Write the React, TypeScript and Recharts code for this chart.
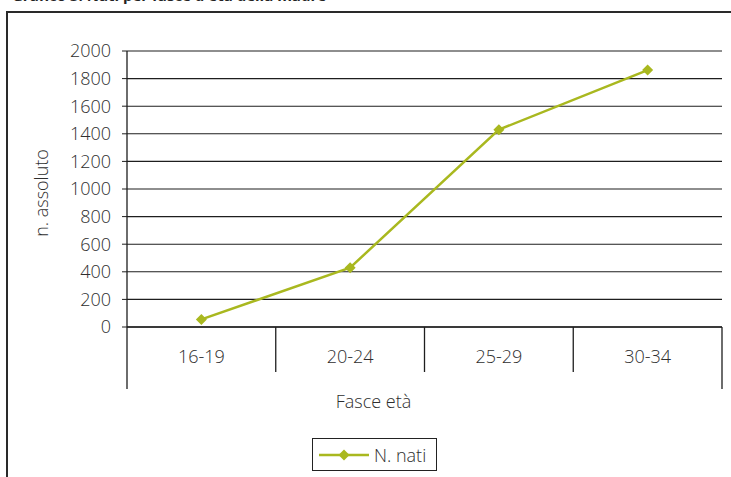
import React from 'react';
import { LineChart, Line, XAxis, YAxis, CartesianGrid, Legend } from 'recharts';

const categories = ['16-19', '20-24', '25-29', '30-34'];
const nati = [55, 430, 1430, 1862];
const yTicks = [0, 200, 400, 600, 800, 1000, 1200, 1400, 1600, 1800, 2000];
const seriesName = 'N. nati';
const title = "Grafico 3: Nati per fasce d'età della madre";

const data = categories.map((c, i) => ({ cat: c, nati: nati[i] }));

const W = 731;
const H = 477;
const LINE_COLOR = '#a9b81f';
const AXIS_COLOR = '#1e1e1e';
const TEXT_COLOR = '#2e2e2e';
const FONT = '"Open Sans", sans-serif';
const FW = 300;

const Diamond = (props: any) => {
  const { cx, cy } = props;
  if (cx == null || cy == null) return null;
  const r = 5.5;
  return (
    <path
      d={`M${cx},${cy - r} L${cx + r},${cy} L${cx},${cy + r} L${cx - r},${cy} Z`}
      fill={LINE_COLOR}
      stroke="none"
    />
  );
};

const XTick = (props: any) => {
  const { x, y, payload, index, visibleTicksCount, width } = props;
  const half =
    payload && typeof payload.offset === 'number' && payload.offset > 0
      ? payload.offset
      : width / visibleTicksCount / 2;
  const last = index === visibleTicksCount - 1;
  return (
    <g>
      <line
        x1={x - half}
        x2={x - half}
        y1={y}
        y2={y + (index === 0 ? 62 : 45)}
        stroke={AXIS_COLOR}
        strokeWidth={1.3}
      />
      {last && (
        <line x1={x + half} x2={x + half} y1={y} y2={y + 62} stroke={AXIS_COLOR} strokeWidth={1.3} />
      )}
      <text
        x={x}
        y={y + 30}
        dy="0.35em"
        textAnchor="middle"
        fill={TEXT_COLOR}
        fontSize={18}
        fontWeight={FW}
        fontFamily={FONT}
      >
        {payload.value}
      </text>
    </g>
  );
};

const YLabel = (props: any) => {
  const vb = props.viewBox || {};
  const cx = vb.x + 22;
  const cy = vb.y + vb.height / 2 + 4;
  return (
    <text
      x={cx}
      y={cy}
      transform={`rotate(-90, ${cx}, ${cy})`}
      textAnchor="middle"
      dy="0.35em"
      fill={TEXT_COLOR}
      fontSize={18}
      fontWeight={FW}
      fontFamily={FONT}
    >
      n. assoluto
    </text>
  );
};

const XLabel = (props: any) => {
  const vb = props.viewBox || {};
  return (
    <text
      x={W / 2 + 8}
      y={vb.y + 75}
      dy="0.35em"
      textAnchor="middle"
      fill={TEXT_COLOR}
      fontSize={18}
      fontWeight={FW}
      fontFamily={FONT}
    >
      Fasce età
    </text>
  );
};

const LegendContent = () => (
  <div
    style={{
      border: '1.3px solid #222',
      width: 125,
      height: 33,
      boxSizing: 'border-box',
      display: 'flex',
      alignItems: 'center',
      background: '#fff',
    }}
  >
    <svg width={60} height={20} style={{ marginLeft: 4 }}>
      <line x1={2} x2={52} y1={10} y2={10} stroke={LINE_COLOR} strokeWidth={2.5} />
      <path d="M27,4.5 L32.5,10 L27,15.5 L21.5,10 Z" fill={LINE_COLOR} />
    </svg>
    <span style={{ fontFamily: FONT, fontSize: 18, fontWeight: FW, color: TEXT_COLOR, marginLeft: -3 }}>
      {seriesName}
    </span>
  </div>
);

export default function App() {
  return (
    <div
      style={{
        position: 'absolute',
        left: 0,
        top: 0,
        width: W,
        height: H,
        overflow: 'hidden',
        background: '#fff',
      }}
    >
      <div
        style={{
          position: 'absolute',
          left: 12,
          top: -12,
          fontFamily: FONT,
          fontWeight: 700,
          fontSize: 15,
          lineHeight: '15px',
          color: '#222',
          whiteSpace: 'nowrap',
        }}
      >
        {title}
      </div>
      <div
        style={{
          position: 'absolute',
          left: 6,
          top: 11,
          width: W + 20,
          height: H + 20,
          border: '2px solid #2a2a2a',
          boxSizing: 'border-box',
        }}
      />
      <div style={{ position: 'absolute', left: 0, top: 0 }}>
        <LineChart
          width={W}
          height={H}
          data={data}
          margin={{ top: 51, right: 9, bottom: 70, left: 20 }}
        >
          <CartesianGrid horizontal vertical={false} stroke={AXIS_COLOR} strokeWidth={1.1} />
          <XAxis
            dataKey="cat"
            scale="band"
            type="category"
            height={80}
            interval={0}
            tickSize={0}
            tickMargin={0}
            tickLine={false}
            axisLine={{ stroke: AXIS_COLOR, strokeWidth: 1.3 }}
            tick={<XTick />}
            label={<XLabel />}
          />
          <YAxis
            width={107}
            domain={[0, 2000]}
            ticks={yTicks}
            interval={0}
            tickSize={5}
            tickMargin={11}
            tickLine={{ stroke: AXIS_COLOR }}
            axisLine={{ stroke: AXIS_COLOR, strokeWidth: 1.3 }}
            tick={{ fill: TEXT_COLOR, fontSize: 18, fontWeight: FW, fontFamily: FONT }}
            label={<YLabel />}
          />
          <Legend
            layout="horizontal"
            verticalAlign="middle"
            align="center"
            content={<LegendContent />}
            wrapperStyle={{ left: 312, top: 438, width: 125, height: 33 }}
          />
          <Line
            type="linear"
            dataKey="nati"
            name={seriesName}
            stroke={LINE_COLOR}
            strokeWidth={2.5}
            dot={<Diamond />}
            activeDot={false}
            isAnimationActive={false}
          />
        </LineChart>
      </div>
    </div>
  );
}
